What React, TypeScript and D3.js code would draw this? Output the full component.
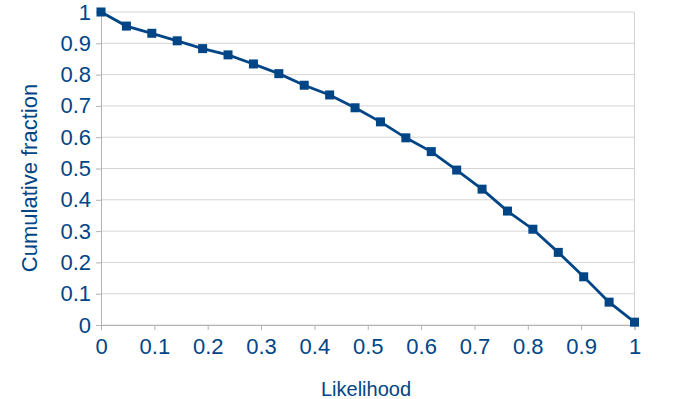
import React, { useEffect, useRef } from "react";
import * as d3 from "d3";

const likelihood = d3.range(22).map((i) => i / 21);
const cumulative = [
  1, 0.955, 0.932, 0.908, 0.883, 0.863, 0.834, 0.803, 0.766, 0.735, 0.694,
  0.649, 0.598, 0.554, 0.495, 0.434, 0.364, 0.306, 0.232, 0.154, 0.073, 0.009,
];
const tickValues = [0, 0.1, 0.2, 0.3, 0.4, 0.5, 0.6, 0.7, 0.8, 0.9, 1];
const xTitle = "Likelihood";
const yTitle = "Cumulative fraction";

const blue = "#004586";
const width = 691;
const height = 399;
const margin = { top: 12, right: 56.5, bottom: 74, left: 101 };

function App() {
  const ref = useRef<SVGSVGElement>(null);

  useEffect(() => {
    const svg = d3.select(ref.current);
    svg.selectAll("*").remove();

    const x = d3
      .scaleLinear()
      .domain([0, 1])
      .range([margin.left, width - margin.right]);
    const y = d3
      .scaleLinear()
      .domain([0, 1])
      .range([height - margin.bottom, margin.top]);

    const font = "'Liberation Sans', Arial, sans-serif";

    // horizontal grid
    svg
      .append("g")
      .selectAll("line")
      .data(tickValues)
      .enter()
      .append("line")
      .attr("x1", x(0))
      .attr("x2", x(1))
      .attr("y1", (d) => y(d))
      .attr("y2", (d) => y(d))
      .attr("stroke", "#d4d4d4")
      .attr("stroke-width", 1);

    // right border
    svg
      .append("line")
      .attr("x1", x(1))
      .attr("x2", x(1))
      .attr("y1", y(0))
      .attr("y2", y(1))
      .attr("stroke", "#d4d4d4");

    const xAxis = svg
      .append("g")
      .attr("transform", `translate(0, ${y(0)})`)
      .call(
        d3
          .axisBottom(x)
          .tickValues(tickValues)
          .tickSize(5)
          .tickPadding(8)
          .tickFormat((d) => d3.format("~g")(d as number))
      );
    xAxis.select(".domain").attr("stroke", "#b3b3b3");
    xAxis.selectAll(".tick line").attr("stroke", "#b3b3b3");
    xAxis
      .selectAll(".tick text")
      .attr("fill", blue)
      .attr("font-size", 22)
      .attr("font-family", font);

    const yAxis = svg
      .append("g")
      .attr("transform", `translate(${x(0)}, 0)`)
      .call(
        d3
          .axisLeft(y)
          .tickValues(tickValues)
          .tickSize(5)
          .tickPadding(5)
          .tickFormat((d) => d3.format("~g")(d as number))
      );
    yAxis.select(".domain").attr("stroke", "#b3b3b3");
    yAxis.selectAll(".tick line").attr("stroke", "#b3b3b3");
    yAxis
      .selectAll(".tick text")
      .attr("fill", blue)
      .attr("font-size", 22)
      .attr("font-family", font);

    const line = d3
      .line<number>()
      .x((_, i) => x(likelihood[i]))
      .y((d) => y(d));

    svg
      .append("path")
      .datum(cumulative)
      .attr("d", line)
      .attr("fill", "none")
      .attr("stroke", blue)
      .attr("stroke-width", 2.8);

    const s = 9;
    svg
      .append("g")
      .selectAll("rect")
      .data(cumulative)
      .enter()
      .append("rect")
      .attr("x", (_, i) => x(likelihood[i]) - s / 2)
      .attr("y", (d) => y(d) - s / 2)
      .attr("width", s)
      .attr("height", s)
      .attr("fill", blue);

    svg
      .append("text")
      .text(xTitle)
      .attr("x", 366)
      .attr("y", 396)
      .attr("text-anchor", "middle")
      .attr("fill", blue)
      .attr("font-size", 20)
      .attr("font-family", font);

    svg
      .append("text")
      .text(yTitle)
      .attr("transform", `translate(37, 178) rotate(-90)`)
      .attr("text-anchor", "middle")
      .attr("fill", blue)
      .attr("font-size", 22)
      .attr("font-family", font);
  }, []);

  return (
    <svg
      ref={ref}
      width={width}
      height={height}
      style={{ position: "absolute", left: 0, top: 0, background: "#fff" }}
    />
  );
}

export default App;
